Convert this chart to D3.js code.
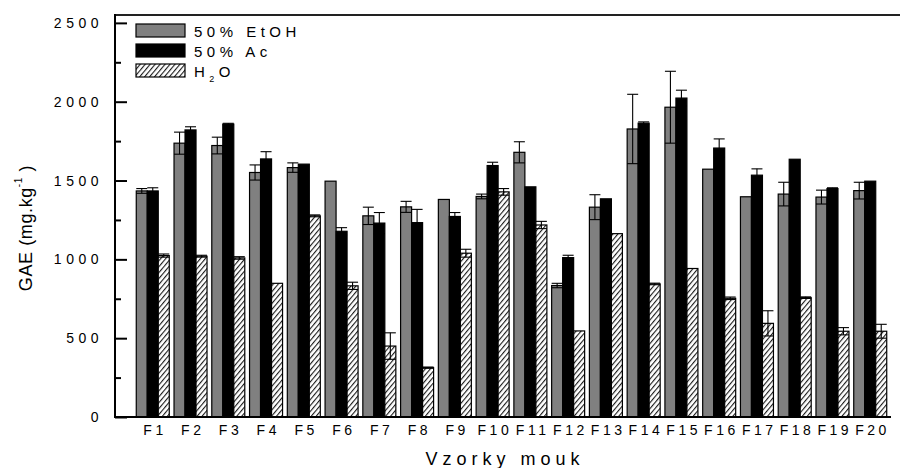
<!DOCTYPE html>
<html>
<head>
<meta charset="utf-8">
<script src="https://cdn.jsdelivr.net/npm/d3@7"></script>
<style>
  html, body { margin: 0; padding: 0; background: #fff; }
  svg { display: block; font-family: Arial, "Liberation Sans", sans-serif; }
</style>
</head>
<body>
<svg id="chart" width="900" height="468"></svg>
<script>
const categories = ["F1","F2","F3","F4","F5","F6","F7","F8","F9","F10","F11","F12","F13","F14","F15","F16","F17","F18","F19","F20"];
const seriesNames = ["50% EtOH", "50% Ac", "H2O"];
const etoh    = [1434,1737,1722,1551,1582,1496,1276,1333,1380,1399,1679, 834,1331,1827,1965,1572,1397,1414,1395,1436];
const etohErr = [  15,  70,  53,  48,  30,   0,  55,  35,   0,  15,  67,  14,  79, 220, 228,   0,   0,  75,  44,  53];
const ac      = [1434,1821,1858,1637,1604,1178,1230,1233,1272,1595,1460,1011,1384,1864,2023,1706,1534,1635,1449,1496];
const acErr   = [  20,  20,   5,  46,   0,  23,  67,  84,  25,  21,   0,  15,   0,   8,  50,  58,  40,   0,   5,   0];
const h2o     = [1024,1020,1009, 848,1276, 832, 450, 313,1039,1428,1218, 546,1163, 844, 942, 753, 594, 757, 544, 544];
const h2oErr  = [  10,   6,   8,   0,   6,  23,  84,   4,  25,  21,  23,   0,   0,   5,   0,   8,  80,   5,  23,  44];
const yMajorTicks = [0, 500, 1000, 1500, 2000, 2500];
const yMinorTicks = [250, 750, 1250, 1750, 2250];

const svg = d3.select("#chart");
const pLeft = 115, pRight = 891, pTop = 15, pBottom = 417;

const x = d3.scaleLinear().domain([0, 20.55]).range([pLeft, pRight]);
const y = d3.scaleLinear().domain([0, 2550]).range([pBottom, pTop]);

const barW = 11;
const fills = ["#808080", "#000000", "url(#hatch)"];

// hatch pattern
const defs = svg.append("defs");
const pat = defs.append("pattern")
  .attr("id", "hatch").attr("patternUnits", "userSpaceOnUse")
  .attr("width", 3.8).attr("height", 8)
  .attr("patternTransform", "rotate(40)");
pat.append("rect").attr("width", 3.8).attr("height", 8).attr("fill", "#fff");
pat.append("line").attr("x1", 0.6).attr("y1", 0).attr("x2", 0.6).attr("y2", 8)
  .attr("stroke", "#000").attr("stroke-width", 1);

const series = [
  {vals: etoh, errs: etohErr},
  {vals: ac, errs: acErr},
  {vals: h2o, errs: h2oErr}
];

const gBars = svg.append("g");
series.forEach((s, k) => {
  categories.forEach((c, i) => {
    const cx = x(i + 1);
    const bx = cx - 1.5 * barW + k * barW;
    gBars.append("rect")
      .attr("x", bx).attr("y", y(s.vals[i]))
      .attr("width", barW).attr("height", y(0) - y(s.vals[i]))
      .attr("fill", fills[k]).attr("stroke", "#000").attr("stroke-width", 1.2);
  });
});
// error bars
series.forEach((s, k) => {
  categories.forEach((c, i) => {
    const e = s.errs[i];
    if (!e) return;
    const cx = x(i + 1) - 1.5 * barW + k * barW + barW / 2;
    const yt = y(s.vals[i] + e), yb = y(s.vals[i] - e);
    const g = gBars.append("g").attr("stroke", "#000").attr("stroke-width", 1.1);
    g.append("line").attr("x1", cx).attr("x2", cx).attr("y1", yt).attr("y2", yb);
    g.append("line").attr("x1", cx - barW / 2).attr("x2", cx + barW / 2).attr("y1", yt).attr("y2", yt);
    g.append("line").attr("x1", cx - barW / 2).attr("x2", cx + barW / 2).attr("y1", yb).attr("y2", yb);
  });
});

// axes frame
svg.append("line").attr("x1", pLeft).attr("x2", 900).attr("y1", pTop).attr("y2", pTop)
  .attr("stroke", "#222").attr("stroke-width", 2);
svg.append("line").attr("x1", pLeft).attr("x2", pLeft).attr("y1", pTop - 1).attr("y2", pBottom + 1)
  .attr("stroke", "#000").attr("stroke-width", 2);
svg.append("line").attr("x1", pLeft - 1).attr("x2", pRight).attr("y1", pBottom).attr("y2", pBottom)
  .attr("stroke", "#000").attr("stroke-width", 2);

// y axis
const yAxis = d3.axisLeft(y).tickValues(yMajorTicks).tickSize(-12).tickPadding(12)
  .tickFormat(d3.format("d"));
const gy = svg.append("g").attr("transform", `translate(${pLeft},0)`).call(yAxis);
gy.select(".domain").remove();
gy.selectAll(".tick line").attr("stroke", "#000").attr("stroke-width", 2);
gy.selectAll(".tick text").attr("font-size", 14).attr("letter-spacing", "4.5px")
  .attr("fill", "#000").attr("font-family", "Arial, 'Liberation Sans', sans-serif");

const yMinor = d3.axisLeft(y).tickValues(yMinorTicks).tickSize(-6).tickFormat("");
const gym = svg.append("g").attr("transform", `translate(${pLeft},0)`).call(yMinor);
gym.select(".domain").remove();
gym.selectAll(".tick line").attr("stroke", "#000").attr("stroke-width", 2);

// x axis labels
const xAxis = d3.axisBottom(x).tickValues(d3.range(1, 21)).tickSize(0).tickPadding(0)
  .tickFormat(d => categories[d - 1]);
const gx = svg.append("g").attr("transform", `translate(0,${pBottom})`).call(xAxis);
gx.select(".domain").remove();
gx.selectAll(".tick text").attr("font-size", 14).attr("letter-spacing", "3.5px")
  .attr("dy", null).attr("y", 18).attr("dx", 1.75)
  .attr("fill", "#000").attr("font-family", "Arial, 'Liberation Sans', sans-serif");

// x title
svg.append("text").attr("x", 505).attr("y", 465).attr("text-anchor", "middle")
  .attr("font-size", 18).attr("letter-spacing", "5px").attr("fill", "#000")
  .text("Vzorky mouk");

// y title
const ytl = svg.append("text").attr("transform", "translate(32,228) rotate(-90)")
  .attr("text-anchor", "middle").attr("font-size", 18).attr("letter-spacing", "0.6px").attr("fill", "#000");
ytl.append("tspan").text("GAE (mg.kg");
ytl.append("tspan").attr("font-size", 10).attr("dy", -10).text("-1");
ytl.append("tspan").attr("dy", 10).text(" )");

// legend
const legend = svg.append("g");
seriesNames.forEach((name, k) => {
  const ly = 24 + k * 20;
  legend.append("rect").attr("x", 136).attr("y", ly).attr("width", 49).attr("height", 13)
    .attr("fill", fills[k]).attr("stroke", "#000").attr("stroke-width", 1.2);
  const t = legend.append("text").attr("x", 194).attr("y", ly + 12.5)
    .attr("font-size", 15).attr("letter-spacing", "4.5px").attr("fill", "#000");
  if (name === "H2O") {
    t.append("tspan").text("H");
    t.append("tspan").attr("font-size", 9).attr("dy", 5).text("2");
    t.append("tspan").attr("dy", -5).text("O");
  } else {
    t.text(name);
  }
});
</script>
</body>
</html>
